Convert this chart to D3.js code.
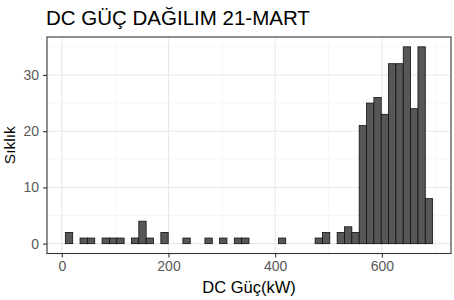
<!DOCTYPE html>
<html>
<head>
<meta charset="utf-8">
<script src="https://cdn.jsdelivr.net/npm/d3@7"></script>
<style>
  body { margin: 0; background: #fff; }
  text { font-family: "Liberation Sans", Arial, sans-serif; }
</style>
</head>
<body>
<div id="my_dataviz"></div>
<script>
// histogram bins (50 bins)
var binStart = 6.7;
var binWidth = 13.77;
var counts = [2, 0, 1, 1, 0, 1, 1, 1, 0, 1,
              4, 1, 0, 2, 0, 0, 1, 0, 0, 1,
              0, 1, 0, 1, 1, 0, 0, 0, 0, 1,
              0, 0, 0, 0, 1, 2, 0, 2, 3, 2,
              21, 25, 26, 23, 32, 32, 35, 24, 35, 8];
var xTicks = [0, 200, 400, 600];
var xMinor = [100, 300, 500, 700];
var yTicks = [0, 10, 20, 30];
var yMinor = [5, 15, 25, 35];

var titleText = "DC GÜÇ DAĞILIM 21-MART";
var xTitle = "DC Güç(kW)";
var yTitle = "Sıklık";

// Set the dimensions and margins of the graph
var width = 454, height = 300;
var margin = {top: 37, right: 3, bottom: 46.5, left: 47};
var innerW = width - margin.left - margin.right,
    innerH = height - margin.top - margin.bottom;

var bins = counts.map(function(c, i) {
  return {x0: binStart + i * binWidth, x1: binStart + (i + 1) * binWidth, n: c};
});

var svg = d3.select("#my_dataviz")
  .append("svg")
    .attr("width", width)
    .attr("height", height);

var g = svg.append("g")
    .attr("transform", "translate(" + margin.left + "," + margin.top + ")");

// ggplot style 5% expansion
var xLo = bins[0].x0, xHi = bins[bins.length - 1].x1;
var xPad = (xHi - xLo) * 0.05;
var x = d3.scaleLinear()
    .domain([xLo - xPad, xHi + xPad])
    .range([0, innerW]);

var yMax = d3.max(counts);
var y = d3.scaleLinear()
    .domain([-yMax * 0.05, yMax * 1.05])
    .range([innerH, 0]);

// Grid lines, minor first
g.selectAll(".xminor").data(xMinor).enter().append("line")
    .attr("x1", function(d) { return x(d); }).attr("x2", function(d) { return x(d); })
    .attr("y1", 0).attr("y2", innerH)
    .attr("stroke", "#f2f2f2").attr("stroke-width", 0.6);
g.selectAll(".yminor").data(yMinor).enter().append("line")
    .attr("y1", function(d) { return y(d); }).attr("y2", function(d) { return y(d); })
    .attr("x1", 0).attr("x2", innerW)
    .attr("stroke", "#f2f2f2").attr("stroke-width", 0.6);
g.selectAll(".xmajor").data(xTicks).enter().append("line")
    .attr("x1", function(d) { return x(d); }).attr("x2", function(d) { return x(d); })
    .attr("y1", 0).attr("y2", innerH)
    .attr("stroke", "#e8e8e8").attr("stroke-width", 1.1);
g.selectAll(".ymajor").data(yTicks).enter().append("line")
    .attr("y1", function(d) { return y(d); }).attr("y2", function(d) { return y(d); })
    .attr("x1", 0).attr("x2", innerW)
    .attr("stroke", "#e8e8e8").attr("stroke-width", 1.1);

// Bars
g.append("g")
  .selectAll("rect")
  .data(bins)
  .enter().append("rect")
    .attr("x", function(d) { return x(d.x0); })
    .attr("width", function(d) { return x(d.x1) - x(d.x0); })
    .attr("y", function(d) { return y(d.n); })
    .attr("height", function(d) { return y(0) - y(d.n); })
    .attr("fill", "#575757")
    .attr("stroke", "#111111")
    .attr("stroke-width", 0.8);

// Panel border
g.append("rect")
    .attr("x", 0).attr("y", 0)
    .attr("width", innerW).attr("height", innerH)
    .attr("fill", "none")
    .attr("stroke", "#333333")
    .attr("stroke-width", 1.1);

// Axes
var xAxis = g.append("g")
    .attr("transform", "translate(0," + innerH + ")")
    .call(d3.axisBottom(x).tickValues(xTicks).tickSize(4).tickPadding(4).tickSizeOuter(0));
var yAxis = g.append("g")
    .call(d3.axisLeft(y).tickValues(yTicks).tickSize(4).tickPadding(4).tickSizeOuter(0));

[xAxis, yAxis].forEach(function(a) {
  a.select(".domain").remove();
  a.selectAll("line").attr("stroke", "#333333").attr("stroke-width", 1.1);
  a.selectAll("text")
    .attr("fill", "#595959")
    .style("font-size", "14px")
    .style("font-family", "'Liberation Sans', Arial, sans-serif");
});

// Titles
svg.append("text")
    .attr("x", 46).attr("y", 25)
    .style("font-size", "20.5px")
    .attr("fill", "#000")
    .text(titleText);

svg.append("text")
    .attr("x", margin.left + innerW / 2).attr("y", 293)
    .attr("text-anchor", "middle")
    .style("font-size", "16.5px")
    .attr("fill", "#000")
    .text(xTitle);

svg.append("text")
    .attr("transform", "translate(15," + (margin.top + innerH / 2) + ") rotate(-90)")
    .attr("text-anchor", "middle")
    .style("font-size", "15.5px")
    .attr("fill", "#000")
    .text(yTitle);
</script>
</body>
</html>
